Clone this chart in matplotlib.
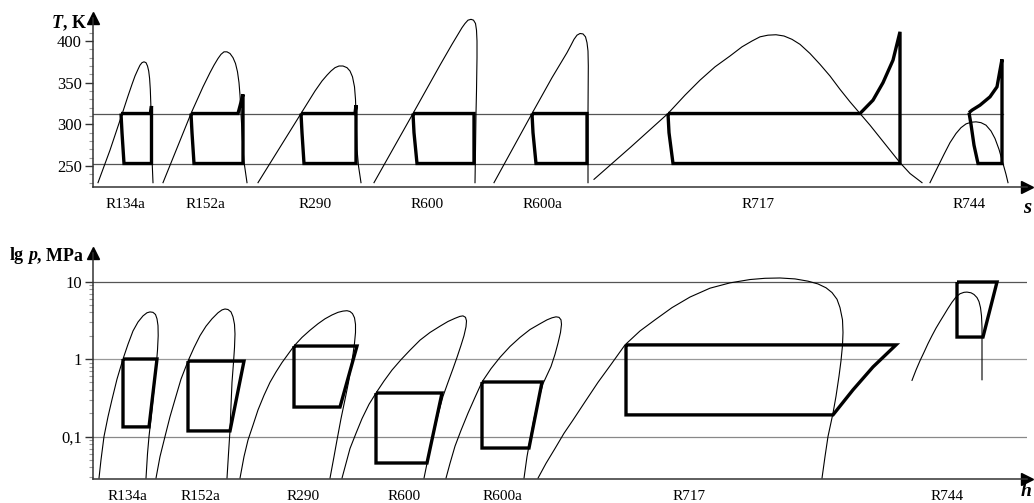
import matplotlib
matplotlib.use('Agg')
import matplotlib.pyplot as plt
import matplotlib.transforms as mtransforms
import numpy as np

plt.rcParams['font.family'] = ['Liberation Serif', 'DejaVu Serif']

W, H = 1034, 503

refrigerants = ['R134a', 'R152a', 'R290', 'R600', 'R600a', 'R717', 'R744']

# ---------------- T-s diagram: (s in drawing units, T in K)
t_cond = 313
t_evap = 253

ts_dome_r134a = [(98, 230), (110, 269), (122, 312), (128, 334), (132, 348), (135, 358), (138, 366),
                 (140, 371), (142, 374), (144, 375), (146, 374), (147.5, 370), (148.7, 364), (149.6, 355),
                 (150.3, 342), (150.8, 325), (151.2, 300), (151.8, 265), (153, 230)]
ts_cycle_r134a = [(121, 313), (122, 290), (124, 253), (151.5, 253), (151.5, 322), (150.5, 313), (121, 313)]

ts_dome_r152a = [(163, 230), (191, 313), (203, 345), (210, 362), (214, 371), (218, 379), (221, 384),
                 (224, 387), (227, 387), (230, 385), (233, 380), (235.5, 373), (237.5, 363), (239, 350),
                 (240, 335), (241, 313), (242.5, 280), (244, 255), (247, 230)]
ts_cycle_r152a = [(191, 313), (192, 290), (194, 253), (243, 253), (243, 336), (240, 322), (238, 313), (191, 313)]

ts_dome_r290 = [(258, 230), (301, 313), (315, 340), (322, 352), (327, 359), (331, 364), (335, 368),
                (339, 370), (343, 370), (347, 368), (350, 364), (352.5, 357), (354.5, 345), (355.5, 330),
                (356, 313), (357, 270), (358.5, 250), (361, 230)]
ts_cycle_r290 = [(301, 313), (302, 290), (304, 253), (356, 253), (356, 323), (355, 313), (301, 313)]

ts_dome_r600 = [(374, 230), (413, 313), (440, 371), (452, 396), (458, 408), (462, 416), (465, 421),
                (468, 425), (471, 426), (473.5, 425), (475.5, 421), (476.5, 413), (477, 400), (477, 380),
                (476.5, 340), (476, 313), (475.5, 270), (475, 230)]
ts_cycle_r600 = [(413, 313), (414, 290), (417, 253), (474, 253), (474, 313), (413, 313)]

ts_dome_r600a = [(494, 230), (532, 313), (552, 356), (562, 376), (567, 386), (571, 395), (574, 402),
                 (577, 407), (580, 409), (583, 408.5), (585.5, 405), (587, 398), (588, 388), (588.3, 370),
                 (588, 313), (588, 230)]
ts_cycle_r600a = [(532, 313), (533, 290), (536, 253), (587, 253), (587, 313), (532, 313)]

ts_dome_r717 = [(594, 234), (631, 273), (668, 313), (685, 335), (700, 353), (715, 369), (730, 382),
                (742, 393), (752, 400), (760, 405), (768, 407), (776, 407.5), (784, 406), (792, 402),
                (800, 396), (810, 385), (820, 372), (830, 358), (840, 342), (850, 327), (860, 313),
                (870, 299), (880, 284), (890, 269), (900, 254), (910, 241), (922, 230)]
ts_cycle_r717 = [(668, 313), (669, 290), (673, 253), (900, 253), (900, 411), (893, 377), (883, 350),
                 (873, 329), (860, 313), (668, 313)]

ts_dome_r744 = [(930, 230), (937, 247), (944, 264), (950, 278), (956, 289), (961, 296), (966, 300.5),
                (971, 302.5), (976, 303), (981, 302), (986, 299), (991, 292), (995, 283), (999, 270),
                (1003, 253), (1006, 240), (1008, 230)]
ts_cycle_r744 = [(969, 314), (971, 300), (974, 275), (978, 253), (1002, 253), (1002, 378), (1000, 365),
                 (997, 345), (990, 333), (980, 323), (972, 317), (969, 314)]

# ---------------- lg p-h diagram: (h in drawing units, p in MPa)
p_grid = [0.1, 1, 10]

ph_dome_r134a = [(99, 0.029), (101, 0.05), (104, 0.1), (108, 0.18), (112, 0.3), (117, 0.55), (123, 1.0),
                 (128, 1.55), (133, 2.3), (138, 3.0), (143, 3.6), (147, 3.95), (150, 4.05), (153, 4.0),
                 (155.5, 3.75), (157, 3.3), (158, 2.7), (158.2, 2.0), (157.5, 1.3), (156.5, 0.9),
                 (155, 0.55), (153, 0.3), (151, 0.17), (149, 0.1), (147.5, 0.06), (146, 0.029)]
ph_cycle_r134a = [(123, 1.0), (123, 0.133), (149, 0.133), (157, 1.0), (123, 1.0)]

ph_dome_r152a = [(156, 0.029), (160, 0.055), (165, 0.1), (170, 0.18), (175, 0.3), (181, 0.55), (188, 0.94),
                 (194, 1.4), (200, 2.0), (206, 2.65), (212, 3.3), (218, 3.95), (222, 4.3), (225, 4.42),
                 (228, 4.35), (231, 4.05), (233, 3.5), (234.5, 2.8), (235, 2.1), (234.5, 1.4), (233.5, 0.9),
                 (232, 0.5), (231, 0.25), (230, 0.12), (228.5, 0.06), (227, 0.029)]
ph_cycle_r152a = [(188, 0.94), (188, 0.118), (230, 0.118), (244, 0.94), (188, 0.94)]

ph_dome_r290 = [(240, 0.029), (244, 0.055), (248, 0.09), (253, 0.14), (258, 0.22), (264, 0.34), (270, 0.5),
                (276, 0.68), (282, 0.9), (288, 1.15), (294, 1.47), (302, 1.9), (310, 2.35), (318, 2.85),
                (325, 3.3), (332, 3.7), (338, 4.0), (343, 4.15), (347, 4.2), (350, 4.1), (352.5, 3.85),
                (354.5, 3.4), (355.5, 2.8), (355.5, 2.2), (354.5, 1.6), (353, 1.15), (351, 0.8),
                (348.5, 0.5), (345, 0.3), (341, 0.17), (337, 0.09), (334, 0.055), (330, 0.029)]
ph_cycle_r290 = [(294, 1.47), (294, 0.24), (340, 0.24), (357, 1.47), (294, 1.47)]

ph_dome_r600 = [(342, 0.029), (346, 0.045), (350, 0.07), (356, 0.11), (362, 0.17), (369, 0.26), (376, 0.364),
                (384, 0.52), (392, 0.72), (401, 0.98), (410, 1.3), (420, 1.75), (430, 2.2), (440, 2.65),
                (448, 3.05), (455, 3.35), (460, 3.55), (463, 3.6), (465.5, 3.45), (466.5, 3.1), (466, 2.6),
                (464, 2.0), (461, 1.5), (457, 1.05), (453, 0.75), (448, 0.5), (443, 0.33), (438, 0.19),
                (433, 0.1), (429, 0.06), (424, 0.029)]
ph_cycle_r600 = [(376, 0.364), (376, 0.0455), (427, 0.0455), (442, 0.364), (376, 0.364)]

ph_dome_r600a = [(446, 0.029), (450, 0.045), (455, 0.075), (461, 0.12), (468, 0.2), (475, 0.32), (482, 0.505),
                 (491, 0.75), (500, 1.05), (510, 1.45), (520, 1.9), (530, 2.4), (540, 2.85), (547, 3.2),
                 (552, 3.4), (556, 3.5), (559, 3.45), (561, 3.2), (561.5, 2.8), (560.5, 2.2), (558, 1.6),
                 (555, 1.15), (551, 0.8), (547, 0.62), (543, 0.48), (538, 0.28), (534, 0.17), (530, 0.09),
                 (527, 0.055), (524, 0.029)]
ph_cycle_r600a = [(482, 0.505), (482, 0.071), (529, 0.071), (542, 0.505), (482, 0.505)]

ph_dome_r717 = [(538, 0.029), (546, 0.045), (555, 0.07), (564, 0.11), (573, 0.163), (585, 0.28), (598, 0.5),
                (611, 0.85), (625, 1.52), (640, 2.3), (655, 3.2), (672, 4.6), (690, 6.3), (710, 8.2),
                (730, 9.6), (750, 10.6), (765, 11.0), (780, 11.1), (795, 10.8), (808, 10.1), (818, 9.3),
                (826, 8.3), (832, 7.2), (837, 5.9), (840, 4.6), (842.5, 3.2), (843, 2.2), (842.5, 1.5),
                (841, 0.95), (839, 0.6), (836, 0.33), (833, 0.2), (828, 0.1), (825, 0.055), (822, 0.029)]
ph_cycle_r717 = [(626, 1.52), (626, 0.19), (833, 0.19), (853, 0.4), (873, 0.79), (896, 1.52), (626, 1.52)]

ph_dome_r744 = [(912, 0.53), (916, 0.72), (920, 0.95), (924, 1.22), (928, 1.58), (932, 2.0), (936, 2.5),
                (940, 3.05), (944, 3.7), (948, 4.5), (952, 5.4), (956, 6.3), (960, 6.95), (964, 7.25),
                (967, 7.3), (971, 7.15), (974, 6.8), (977, 6.2), (979, 5.5), (980.5, 4.6), (981.5, 3.6),
                (982, 2.6), (982, 1.6), (982, 0.54)]
ph_cycle_r744 = [(957, 9.85), (957, 1.92), (983, 1.92), (997, 9.85), (957, 9.85)]

ts_domes = [ts_dome_r134a, ts_dome_r152a, ts_dome_r290, ts_dome_r600, ts_dome_r600a, ts_dome_r717, ts_dome_r744]
ts_cycles = [ts_cycle_r134a, ts_cycle_r152a, ts_cycle_r290, ts_cycle_r600, ts_cycle_r600a, ts_cycle_r717, ts_cycle_r744]
ph_domes = [ph_dome_r134a, ph_dome_r152a, ph_dome_r290, ph_dome_r600, ph_dome_r600a, ph_dome_r717, ph_dome_r744]
ph_cycles = [ph_cycle_r134a, ph_cycle_r152a, ph_cycle_r290, ph_cycle_r600, ph_cycle_r600a, ph_cycle_r717, ph_cycle_r744]

# label x positions under each group
ts_label_x = [125, 205, 315, 427, 542, 758, 969]
ph_label_x = [127, 200, 303, 404, 502, 689, 947]

################################################################################

def T_of_px(y):
    return 400 - (y - 41) * 1.2

def p_of_px(y):
    return 10 ** ((359 - y) / 77.5)

fig = plt.figure(figsize=(W / 100, H / 100), dpi=100)

x_lo, x_hi = 93, 1027
ax1 = fig.add_axes([93 / W, 1 - 186.5 / H, (x_hi - 93) / W, (186.5 - 18) / H])
ax2 = fig.add_axes([93 / W, 1 - 478.5 / H, (x_hi - 93) / W, (478.5 - 253) / H])

ax1.set_xlim(x_lo, x_hi)
ax1.set_ylim(T_of_px(186.5), T_of_px(18))
ax2.set_yscale('log')
ax2.set_xlim(x_lo, x_hi)
ax2.set_ylim(p_of_px(478.5), p_of_px(253))

bold = dict(color='black', lw=2.4, solid_joinstyle='miter', solid_capstyle='butt')
thin = dict(color='black', lw=0.8)

# horizontal reference lines
for t in [t_cond, t_evap]:
    ax1.plot([x_lo, 1003], [t, t], color='#555555', lw=0.9, zorder=1)
for p, c in zip(p_grid, ['#888888', '#999999', '#555555']):
    ax2.plot([x_lo, 1027], [p, p], color=c, lw=0.9, zorder=1)

for dome, cyc in zip(ts_domes, ts_cycles):
    d = np.array(dome)
    c = np.array(cyc)
    ax1.plot(d[:, 0], d[:, 1], **thin, zorder=2)
    ax1.plot(c[:, 0], c[:, 1], **bold, zorder=3)

for dome, cyc in zip(ph_domes, ph_cycles):
    d = np.array(dome)
    c = np.array(cyc)
    ax2.plot(d[:, 0], d[:, 1], **thin, zorder=2)
    ax2.plot(c[:, 0], c[:, 1], **bold, zorder=3)

# axes styling
for ax in [ax1, ax2]:
    ax.spines['top'].set_visible(False)
    ax.spines['right'].set_visible(False)
    for s in ['left', 'bottom']:
        ax.spines[s].set_linewidth(1.1)
        ax.spines[s].set_color('#333333')
    ax.set_xticks([])
    ax.tick_params(axis='y', which='major', length=6, width=1, direction='out', pad=2,
                   labelsize=12, color='#333333')
    ax.tick_params(axis='y', which='minor', length=3, width=0.8, direction='out', color='#999999')
    ax.plot([1], [0], marker='>', ms=8, color='black', transform=ax.transAxes, clip_on=False)
    ax.plot([0], [1], marker='^', ms=8, color='black', transform=ax.transAxes, clip_on=False)
    ax.patch.set_visible(False)

ax1.set_yticks([250, 300, 350, 400])
ax1.set_yticks([t for t in range(230, 421, 10) if t % 50], minor=True)

ax2.set_yticks(p_grid)
ax2.set_yticklabels(['0,1', '1', '10'])
minor_p = [m * 10.0 ** e for e in (-2, -1, 0, 1) for m in range(2, 10)]
minor_p = [v for v in minor_p if 0.03 <= v <= 20]
ax2.set_yticks(minor_p, minor=True)
ax2.set_yticklabels([], minor=True)

# group labels
tr1 = mtransforms.blended_transform_factory(ax1.transData, fig.transFigure)
tr2 = mtransforms.blended_transform_factory(ax2.transData, fig.transFigure)
for name, x in zip(refrigerants, ts_label_x):
    ax1.text(x, 1 - 204 / H, name, transform=tr1, ha='center', va='center', fontsize=11)
for name, x in zip(refrigerants, ph_label_x):
    ax2.text(x, 1 - 497 / H, name, transform=tr2, ha='center', va='center', fontsize=11)

# axis names
t1 = fig.text(52 / W, 1 - 23 / H, 'T', fontsize=13, weight='bold', style='italic', va='center')
ax1.annotate(', K', xy=(1, 0), xycoords=t1, va='bottom', fontsize=13, weight='bold')

l1 = fig.text(10 / W, 1 - 256 / H, 'lg', fontsize=13, weight='bold', va='center')
l2 = ax2.annotate('p', xy=(1, 0), xycoords=l1, xytext=(3, 0), textcoords='offset points',
                  va='bottom', fontsize=13, weight='bold', style='italic')
ax2.annotate(', MPa', xy=(1, 0), xycoords=l2, va='bottom', fontsize=13, weight='bold')

fig.text(1027 / W, 1 - 208 / H, 's', fontsize=15, weight='bold', style='italic', ha='center', va='center')
fig.text(1026 / W, 1 - 491 / H, 'h', fontsize=14, weight='bold', style='italic', ha='center', va='center')

fig.savefig('out.png', dpi=100, facecolor='white')
